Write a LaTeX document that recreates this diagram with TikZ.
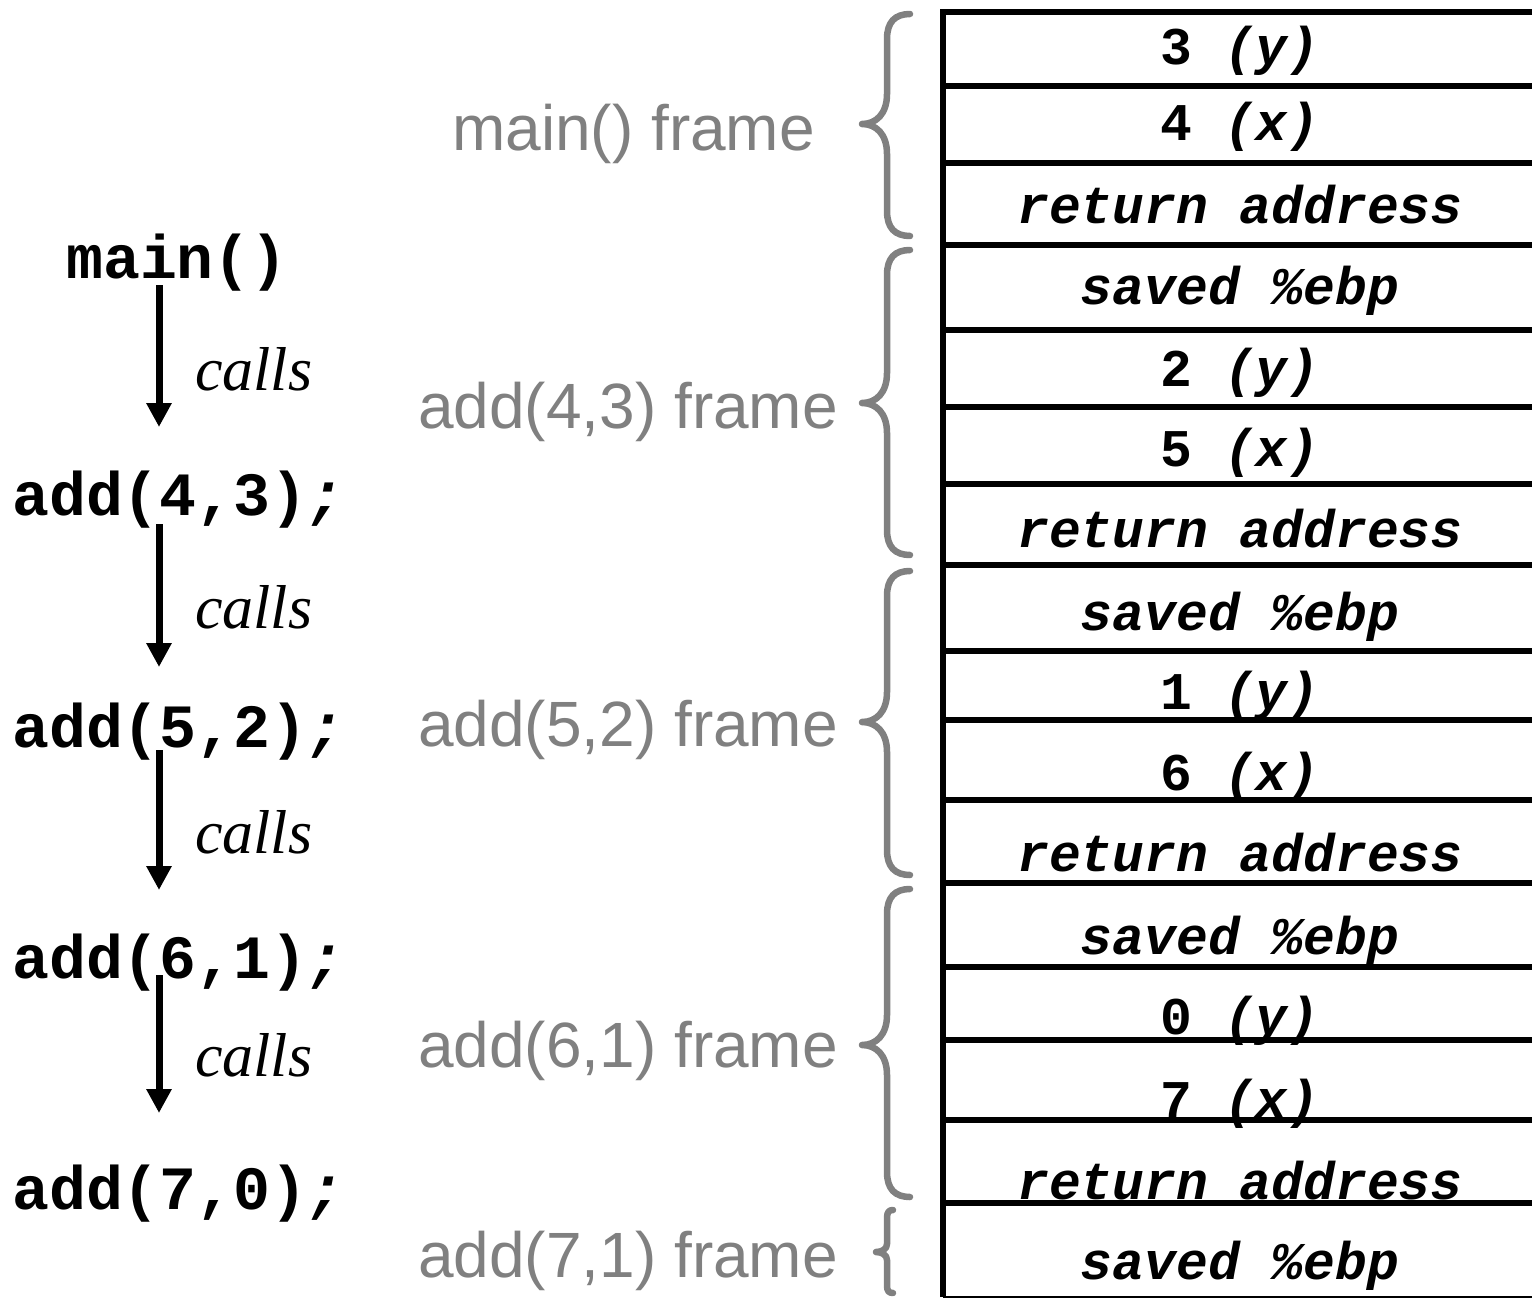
\documentclass[tikz,border=0pt]{standalone}
\usepackage{fontspec}
\setmainfont{Liberation Serif}
\setsansfont{Liberation Sans}
\setmonofont{Liberation Mono}
\usetikzlibrary{arrows.meta}
\definecolor{framegray}{HTML}{808080}
\tikzset{
  cell/.style={font=\fontsize{53}{60}\selectfont\ttfamily\bfseries, anchor=base, inner sep=0pt},
  code/.style={font=\fontsize{61.5}{70}\selectfont\ttfamily\bfseries, anchor=base west, inner sep=0pt},
  callslbl/.style={font=\fontsize{62}{70}\selectfont\itshape, anchor=base west, inner sep=0pt},
  framelbl/.style={font=\fontsize{64}{72}\selectfont\sffamily, text=framegray, anchor=base west, inner sep=0pt},
  callarr/.style={line width=7pt, -{Triangle[length=24pt,width=24pt]}},
  stackline/.style={line width=6pt},
  bracestyle/.style={draw=framegray, line width=6.5pt, line cap=round, line join=round},
}
\newcommand{\bigbrace}[3]{% top, mid, bottom
  \draw[bracestyle] (910,#1) .. controls (895,#1) and (887,#1+8) .. (887,#1+25)
    -- (887,#2-30) .. controls (887,#2-10) and (876,#2) .. (862,#2)
    .. controls (876,#2) and (887,#2+10) .. (887,#2+30)
    -- (887,#3-25) .. controls (887,#3-8) and (895,#3) .. (910,#3);
}
\begin{document}
\begin{tikzpicture}[x=1pt,y=-1pt]
\useasboundingbox (0,0) rectangle (1532,1298);
\clip (0,0) rectangle (1532,1298);
\fill[white] (0,0) rectangle (1532,1298);

% stack box
\draw[stackline] (943,1297) -- (943,12) -- (1540,12);
\foreach \yy in {86,163,245,330,407,484,565,651,720,800,883,967,1040,1120,1203}
  \draw[stackline] (940,\yy) -- (1540,\yy);
\draw[line width=2pt] (943,1297) -- (1540,1297);

% stack cells
\node[cell] (c1)  at (1240,65)   {3 \textit{(y)}};
\node[cell] (c2)  at (1240,140)  {4 \textit{(x)}};
\node[cell] (c3)  at (1240,223)  {\textit{return address}};
\node[cell] (c4)  at (1240,304)  {\textit{saved \%ebp}};
\node[cell] (c5)  at (1240,386)  {2 \textit{(y)}};
\node[cell] (c6)  at (1240,466)  {5 \textit{(x)}};
\node[cell] (c7)  at (1240,547)  {\textit{return address}};
\node[cell] (c8)  at (1240,630)  {\textit{saved \%ebp}};
\node[cell] (c9)  at (1240,709)  {1 \textit{(y)}};
\node[cell] (c10) at (1240,790)  {6 \textit{(x)}};
\node[cell] (c11) at (1240,871)  {\textit{return address}};
\node[cell] (c12) at (1240,954)  {\textit{saved \%ebp}};
\node[cell] (c13) at (1240,1034) {0 \textit{(y)}};
\node[cell] (c14) at (1240,1117) {7 \textit{(x)}};
\node[cell] (c15) at (1240,1199) {\textit{return address}};
\node[cell] (c16) at (1240,1279) {\textit{saved \%ebp}};

% braces
\bigbrace{14}{124}{236}
\bigbrace{250}{403}{555}
\bigbrace{571}{722}{875}
\bigbrace{889}{1045}{1197}
\draw[bracestyle] (893,1210) .. controls (889,1210) and (887,1212) .. (887,1218)
  -- (887,1244) .. controls (887,1249) and (882,1252) .. (876,1252)
  .. controls (882,1252) and (887,1255) .. (887,1260)
  -- (887,1286) .. controls (887,1291) and (889,1293) .. (893,1293);

% frame labels
\node[framelbl] (f1) at (452,150)  {main() frame};
\node[framelbl] (f2) at (418,428)  {add(4,3) frame};
\node[framelbl] (f3) at (418,746)  {add(5,2) frame};
\node[framelbl] (f4) at (418,1067) {add(6,1) frame};
\node[framelbl] (f5) at (418,1277) {add(7,1) frame};

% call chain
\node[code] (m)  at (66,278)  {main()};
\node[code] (a1) at (12,515)  {add(4,3)\textit{;}};
\node[code] (a2) at (12,747)  {add(5,2)\textit{;}};
\node[code] (a3) at (12,978)  {add(6,1)\textit{;}};
\node[code] (a4) at (12,1209) {add(7,0)\textit{;}};

\coordinate (s1) at (159,285);  \coordinate (e1) at (159,427);
\coordinate (s2) at (159,524);  \coordinate (e2) at (159,667);
\coordinate (s3) at (159,750);  \coordinate (e3) at (159,890);
\coordinate (s4) at (159,975);  \coordinate (e4) at (159,1113);
\draw[callarr] (s1) -- (e1);
\draw[callarr] (s2) -- (e2);
\draw[callarr] (s3) -- (e3);
\draw[callarr] (s4) -- (e4);

\node[callslbl] (k1) at (195,390)  {calls};
\node[callslbl] (k2) at (195,628)  {calls};
\node[callslbl] (k3) at (195,853)  {calls};
\node[callslbl] (k4) at (195,1076) {calls};
\end{tikzpicture}
\end{document}
